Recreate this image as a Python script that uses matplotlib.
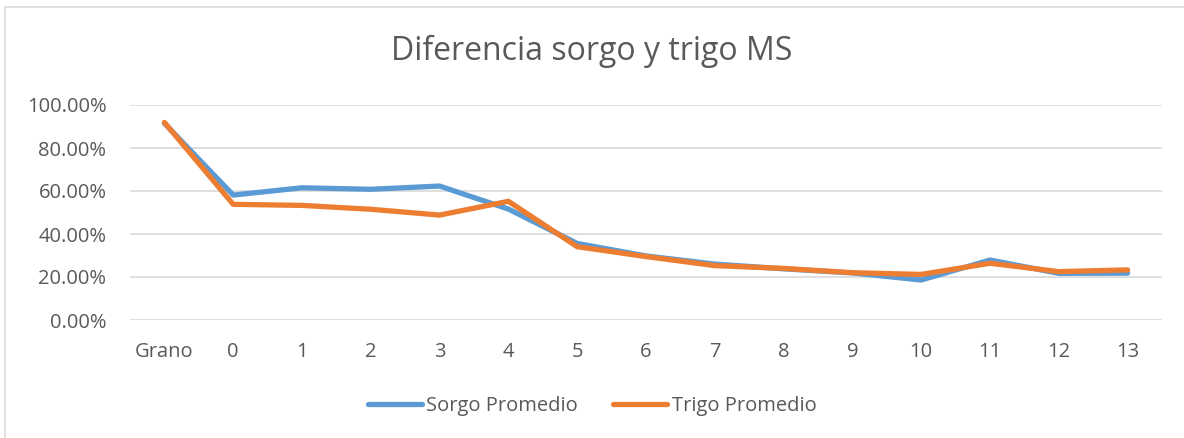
import matplotlib.pyplot as plt
from matplotlib.patches import Rectangle
from matplotlib.ticker import PercentFormatter

plt.rcParams['font.family'] = ['Open Sans', 'DejaVu Sans']

categories = ['Grano', '0', '1', '2', '3', '4', '5', '6', '7', '8', '9', '10', '11', '12', '13']
sorgo = [0.915, 0.581, 0.615, 0.608, 0.623, 0.516, 0.356, 0.298, 0.260, 0.238, 0.219, 0.186, 0.279, 0.217, 0.218]
trigo = [0.919, 0.538, 0.533, 0.515, 0.488, 0.552, 0.341, 0.295, 0.253, 0.240, 0.220, 0.212, 0.264, 0.225, 0.233]

text_color = '#595959'

fig = plt.figure(figsize=(11.84, 4.38), dpi=100)
ax = fig.add_axes([130 / 1184, 1 - 320 / 438, 1032 / 1184, 215 / 438])

x = range(len(categories))
ax.plot(x, sorgo, color='#5B9BD5', lw=3.8, solid_capstyle='round', solid_joinstyle='round', label='Sorgo Promedio')
ax.plot(x, trigo, color='#ED7D31', lw=3.8, solid_capstyle='round', solid_joinstyle='round', label='Trigo Promedio')

ax.set_xlim(-0.5, len(categories) - 0.5)
ax.set_ylim(0, 1.0)
ax.set_yticks([0, 0.2, 0.4, 0.6, 0.8, 1.0])
ax.yaxis.set_major_formatter(PercentFormatter(1.0, decimals=2))
ax.set_xticks(list(x))
ax.set_xticklabels(categories)
ax.tick_params(length=0, labelsize=14.5, colors=text_color, pad=16)
ax.tick_params(axis='y', pad=17)
ax.grid(axis='y', color='#D9D9D9', lw=1.2)
ax.set_axisbelow(True)
for s in ax.spines.values():
    s.set_visible(False)

fig.text(0.5, 1 - 51 / 438, 'Diferencia sorgo y trigo MS', ha='center', va='center',
         fontsize=23, color=text_color)

fig.legend(loc='center', bbox_to_anchor=(0.5, 1 - 406 / 438), ncol=2, frameon=False,
           fontsize=14.5, labelcolor=text_color, handlelength=2.7, handletextpad=0.2,
           columnspacing=1.75)

fig.patches.append(Rectangle((5 / 1184, -0.1), 1.2, 1 - 7 / 438 + 0.1, transform=fig.transFigure,
                             fill=False, edgecolor='#D9D9D9', lw=1.2))

fig.savefig('out.png', dpi=100)
